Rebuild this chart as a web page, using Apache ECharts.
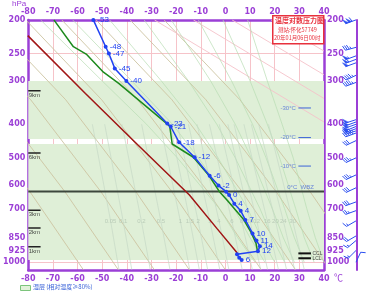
<!DOCTYPE html>
<html>
<head>
<meta charset="utf-8">
<script src="https://cdn.jsdelivr.net/npm/echarts@6/dist/echarts.min.js"></script>
<style>
  html, body { margin: 0; padding: 0; background: #fff; }
  #box { width: 372px; height: 293px; }
</style>
</head>
<body>
<div id="box"></div>
<script>
// pressure ticks (hPa)
const pTicks = [200, 250, 300, 400, 500, 600, 700, 850, 925, 1000];

// temperature profile
const tempP = [200, 239, 250, 276, 300, 398, 406, 451, 498, 563, 601, 626, 640, 678, 711, 755, 826, 866, 899, 929, 949, 970, 986];
const tempT = [-53.6, -48.6, -47.3, -44.9, -40.2, -23.6, -22.2, -18.8, -12.5, -6.4, -2.8, 0.3, 1.5, 3.6, 6.2, 8.1, 11.0, 12.6, 14.0, 13.2, 4.7, 5.6, 6.6];
const tempLabel = ['-53', '-48', '-47', '-45', '-40', '-23', '-21', '-18', '-12', '-6', '-2', '', '0', '4', '4', '7', '10', '11', '14', '12', '', '', '6'];

// dew point profile
const dewP = [200, 239, 251, 283, 305, 405, 456, 498, 563, 625, 664, 753, 820, 881, 928];
const dewT = [-69.6, -61.7, -56.5, -49.5, -43.3, -22.6, -21.6, -13.0, -6.6, -2.5, 0.8, 7.4, 10.4, 12.4, 13.0];

// dark red curve
const curveP = [222, 326, 460, 640, 800, 940];
const curveT = [-80.2, -56.8, -35.4, -14.6, -3.4, 4.8];

// moist layers (RH >= 80%), hPa
const wetTop = [300, 456];
const wetBottom = [441, 986];

// height marks
const kmP = [320, 484, 708, 797, 902];
const kmName = ['9km', '6km', '3km', '2km', '1km'];

// isotherm height marks
const isoP = [359, 437, 528];
const isoName = ['-30°C', '-20°C', '-10°C'];
const wbzP = 625;
const cclP = [943, 974];
const cclName = ['CCL', 'LCL'];

// wind (hPa, direction deg, speed m/s)
const windP = [200, 240, 254, 260, 266, 289, 303, 388, 394, 400, 406, 412, 418, 424, 446, 500, 560, 610, 670, 710, 760, 840, 866, 925, 1000];
const windDir = [250, 255, 250, 250, 250, 245, 250, 252, 250, 250, 248, 250, 252, 250, 245, 245, 245, 245, 250, 250, 240, 240, 230, 225, 25];
const windSpd = [44, 14, 22, 22, 20, 18, 18, 20, 20, 20, 20, 20, 18, 18, 12, 14, 14, 12, 12, 10, 6, 8, 6, 6, 4];

// dry adiabats: T at dryP
const dryP = [200, 340, 625, 1050];
const dryT = [
  [-138.6, -107.8, -79.4, -57.7],
  [-124.4, -93.6, -65.2, -43.5],
  [-109.8, -79.0, -50.6, -28.9],
  [-95.6, -64.8, -36.4, -14.7],
  [-81.0, -50.2, -21.8, -0.1],
  [-66.4, -35.6, -7.2, 14.5],
  [-52.5, -21.7, 6.7, 28.4],
  [-38.7, -7.9, 20.5, 42.2],
  [-24.9, 5.9, 34.3, 56.0]
];

// pink lines upper right: T at 200 hPa, pressure at 40 degC
const pinkT200 = [-28.8, -13.0, 2.7, 18.5, 34.3];
const pinkPEnd = [394, 337, 288, 246, 210];

// moist adiabats: T at moistP
const moistP = [1000, 850, 700, 500, 400, 300, 200];
const moistT = [
  [12, 5, -2.5, -19.5, -32, -50, -75],
  [16, 10, 3.5, -11, -21.5, -38, -62],
  [20, 14.5, 9, -3, -12, -26, -47],
  [24, 19, 14, 4, -3.5, -15, -33],
  [28, 23.5, 19, 10.5, 4, -6, -22],
  [32, 28, 24, 16.5, 11, 2.5, -11],
  [36, 32, 28.5, 22, 17, 10, -1],
  [40, 36.5, 33, 27.5, 23, 17, 9]
];

// saturation mixing ratio lines
const mixName = ['0.05', '0.1', '0.2', '0.5', '1', '1.5', '2', '3', '4', '6', '8', '10', '12', '16', '20', '24', '30'];
const mixT400 = [-54, -49, -42, -34, -26.5, -22.5, -19.5, -15, -11.5, -6.5, -2.5, 1, 3.5, 7.5, 10.5, 13.5, 17.5];
const mixT760 = [-46.6, -41.5, -34.1, -26.2, -18.3, -14.4, -11.1, -6.3, -2.6, 2.6, 6.6, 10, 12.7, 17, 20.3, 23.5, 27.3];
const mixT1050 = [-43.2, -38, -30.5, -22.5, -14.5, -10.6, -7.2, -2.3, 1.4, 6.8, 10.9, 14.3, 17.1, 21.5, 24.8, 28.1, 32];

const purple = '#9b3fd6';
const blue = '#2142f2';
const lp = p => Math.log(p);

const chart = echarts.init(document.getElementById('box'), null, { renderer: 'canvas' });

function bgLine(pts, color, width, type) {
  return {
    type: 'line', data: pts, symbol: 'none', silent: true, z: 1,
    lineStyle: { color: color, width: width, type: type || 'solid' }
  };
}

const series = [];

// moist layer shading
series.push({
  type: 'line', data: [], z: -1, silent: true,
  markArea: {
    silent: true,
    itemStyle: { color: '#dfefd7' },
    data: wetTop.map((t, i) => [{ xAxis: -80, yAxis: lp(t) }, { xAxis: 40, yAxis: lp(wetBottom[i]) }])
  }
});

dryT.forEach(row => series.push(bgLine(row.map((t, i) => [t, lp(dryP[i])]), '#cdc4a2', 0.9)));
pinkT200.forEach((t, i) => series.push(bgLine([[t, lp(200)], [40, lp(pinkPEnd[i])]], '#f5c2ca', 0.9)));
moistT.forEach(row => series.push(bgLine(row.map((t, i) => [t, lp(moistP[i])]), '#b7dcb3', 0.7)));
mixName.forEach((n, i) => series.push(bgLine([[mixT400[i], lp(400)], [mixT760[i], lp(760)], [mixT1050[i], lp(1050)]], '#c5d8c5', 0.7)));

// mixing ratio labels
series.push({
  type: 'scatter', symbolSize: 1, itemStyle: { color: 'transparent' }, silent: true, z: 2,
  data: mixName.map((n, i) => ({ value: [mixT760[i], lp(760)], name: n })),
  label: { show: true, position: 'inside', formatter: '{b}', color: '#b2c4b2', fontSize: 6 }
});

// WBZ line
series.push({
  type: 'line', data: [[-80, lp(wbzP)], [40, lp(wbzP)]], symbol: 'none', z: 3,
  lineStyle: { color: '#3d473d', width: 2 }
});

// dark red curve
series.push({
  type: 'line', data: curveP.map((p, i) => [curveT[i], lp(p)]), symbol: 'none', z: 4,
  lineStyle: { color: '#a11414', width: 1.5 }
});

// dew point
series.push({
  type: 'line', data: dewP.map((p, i) => [dewT[i], lp(p)]), symbol: 'none', z: 5,
  lineStyle: { color: '#1d8a1d', width: 1.5 }
});

// temperature
series.push({
  type: 'line', data: tempP.map((p, i) => [tempT[i], lp(p)]), z: 6,
  symbol: 'circle', symbolSize: 4, showSymbol: true,
  lineStyle: { color: blue, width: 1.5 }, itemStyle: { color: blue },
  label: {
    show: true, position: 'right', distance: 2, color: blue, fontSize: 8,
    formatter: p => tempLabel[p.dataIndex]
  }
});

// km marks
kmP.forEach(p => series.push({
  type: 'line', data: [[-80, lp(p)], [-75, lp(p)]], symbol: 'none', z: 6,
  lineStyle: { color: '#222', width: 1.5 }
}));
series.push({
  type: 'scatter', symbolSize: 1, itemStyle: { color: 'transparent' }, z: 6,
  data: kmP.map((p, i) => ({ value: [-77.5, lp(p)], name: kmName[i] })),
  label: { show: true, position: 'bottom', distance: 1, formatter: '{b}', color: '#222', fontSize: 6 }
});

// isotherm height marks
isoP.forEach(p => series.push({
  type: 'line', data: [[29.6, lp(p)], [34.7, lp(p)]], symbol: 'none', z: 6,
  lineStyle: { color: '#3b63d8', width: 1 }
}));
series.push({
  type: 'scatter', symbolSize: 1, itemStyle: { color: 'transparent' }, z: 6,
  data: isoP.map((p, i) => ({ value: [29.6, lp(p)], name: isoName[i] }))
    .concat([{ value: [30.5, lp(wbzP)], name: '0°C  WBZ', label: { position: 'top', distance: 1 } }]),
  label: { show: true, position: 'left', distance: 2, formatter: '{b}', color: '#4a6ad8', fontSize: 6 }
});

// CCL / LCL
cclP.forEach(p => series.push({
  type: 'line', data: [[29.6, lp(p)], [34.7, lp(p)]], symbol: 'none', z: 6,
  lineStyle: { color: '#111', width: 2 }
}));
series.push({
  type: 'scatter', symbolSize: 1, itemStyle: { color: 'transparent' }, z: 6,
  data: cclP.map((p, i) => ({ value: [34.7, lp(p)], name: cclName[i] })),
  label: { show: true, position: 'right', distance: 1, formatter: '{b}', color: '#222', fontSize: 5 }
});

// wind barbs
function renderBarb(params, api) {
  const c = api.coord([api.value(0), api.value(1)]);
  const ox = c[0] + 32, oy = c[1];
  const d = api.value(2) * Math.PI / 180;
  let rest = api.value(3);
  const ux = Math.sin(d), uy = -Math.cos(d);
  const L = 11, fl = 5, step = 2;
  const tx = ox + ux * L, ty = oy + uy * L;
  const a = 70 * Math.PI / 180;
  const fx = ux * Math.cos(a) - uy * Math.sin(a);
  const fy = ux * Math.sin(a) + uy * Math.cos(a);
  const st = { stroke: '#2b4ff0', lineWidth: 1, fill: null };
  const kids = [{ type: 'line', shape: { x1: ox, y1: oy, x2: tx, y2: ty }, style: st }];
  let pos = 0;
  while (rest >= 20) {
    const bx = tx - ux * pos, by = ty - uy * pos;
    kids.push({
      type: 'polygon',
      shape: { points: [[bx, by], [bx + fx * fl, by + fy * fl], [bx - ux * 3, by - uy * 3]] },
      style: { fill: '#2b4ff0', stroke: '#2b4ff0', lineWidth: 0.5 }
    });
    rest -= 20; pos += 3.5;
  }
  while (rest >= 4) {
    const bx = tx - ux * pos, by = ty - uy * pos;
    kids.push({ type: 'line', shape: { x1: bx, y1: by, x2: bx + fx * fl, y2: by + fy * fl }, style: st });
    rest -= 4; pos += step;
  }
  if (rest >= 2) {
    if (pos === 0) pos = step;
    const bx = tx - ux * pos, by = ty - uy * pos;
    kids.push({ type: 'line', shape: { x1: bx, y1: by, x2: bx + fx * fl / 2, y2: by + fy * fl / 2 }, style: st });
  }
  return { type: 'group', children: kids };
}
series.push({
  type: 'custom', renderItem: renderBarb, z: 7, clip: false,
  encode: { x: 0, y: 1 },
  data: windP.map((p, i) => [40, lp(p), windDir[i], windSpd[i]])
});

const axisFont = { color: purple, fontSize: 8, fontWeight: 'bold', fontFamily: 'DejaVu Sans' };
const yBase = {
  type: 'value', min: lp(200), max: lp(1053), inverse: true,
  axisTick: { show: false, customValues: pTicks.map(lp) },
  axisLabel: Object.assign({ customValues: pTicks.map(lp), formatter: v => Math.round(Math.exp(v)), margin: 3 }, axisFont)
};

const option = {
  animation: false,
  grid: { left: 20, right: 48, top: 15, bottom: 23 },
  xAxis: [
    {
      type: 'value', position: 'bottom', min: -80, max: 40, interval: 10,
      axisLine: { show: true, onZero: false, lineStyle: { color: purple, width: 2.5 } },
      axisTick: { show: false },
      axisLabel: Object.assign({ margin: 5 }, axisFont),
      splitLine: { show: true, lineStyle: { color: '#f6c3c9', width: 1 } }
    },
    {
      type: 'value', position: 'top', min: -80, max: 40, interval: 10,
      axisLine: { show: true, onZero: false, lineStyle: { color: purple, width: 2.5 } },
      axisTick: { show: false },
      axisLabel: Object.assign({ margin: 4 }, axisFont),
      splitLine: { show: false }
    }
  ],
  yAxis: [
    Object.assign({}, yBase, {
      position: 'left',
      name: 'hPa', nameLocation: 'start', nameGap: 4,
      nameTextStyle: { color: purple, fontSize: 8, align: 'right', padding: [0, 2, 0, 0] },
      axisLine: { show: true, onZero: false, lineStyle: { color: purple, width: 2.5 } },
      splitLine: { show: true, lineStyle: { color: '#f6c3c9', width: 1 } }
    }),
    Object.assign({}, yBase, {
      position: 'right',
      axisLine: { show: true, onZero: false, lineStyle: { color: purple, width: 2.5 } },
      splitLine: { show: false }
    }),
    {
      type: 'value', min: lp(200), max: lp(1053), inverse: true, position: 'right', offset: 33,
      axisLine: { show: true, onZero: false, lineStyle: { color: purple, width: 2 } },
      axisTick: { show: false }, axisLabel: { show: false }, splitLine: { show: false }
    }
  ],
  graphic: [
    {
      type: 'text', left: 334, top: 273, z: 20,
      style: { text: '℃', fill: purple, font: '9px "Noto Sans CJK SC"' }
    },
    {
      type: 'rect', left: 272, top: 15, shape: { width: 51, height: 28 }, z: 20,
      style: { fill: '#fff', stroke: '#e8303c', lineWidth: 1.5 }
    },
    {
      type: 'text', left: 275, top: 17, z: 21,
      style: { text: '温度对数压力图', fill: '#e8303c', font: 'bold 7px "Noto Sans CJK SC"' }
    },
    {
      type: 'text', left: 278, top: 27, z: 21,
      style: { text: '测站:怀化57749', fill: '#e8303c', font: '5.5px "Noto Sans CJK SC"' }
    },
    {
      type: 'text', left: 274, top: 35, z: 21,
      style: { text: '20年01月06日00时', fill: '#e8303c', font: '5.5px "Noto Sans CJK SC"' }
    },
    {
      type: 'rect', left: 20, top: 285, shape: { width: 10, height: 5 }, z: 20,
      style: { fill: '#e2f2da', stroke: '#7cc47c', lineWidth: 1 }
    },
    {
      type: 'text', left: 33, top: 284, z: 20,
      style: { text: '湿层 (相对湿度≥80%)', fill: '#3a63d8', font: '6px "Noto Sans CJK SC"' }
    }
  ],
  series: series.map(s => Object.assign({ xAxisIndex: 0, yAxisIndex: 0 }, s))
};

chart.setOption(option);
</script>
</body>
</html>
